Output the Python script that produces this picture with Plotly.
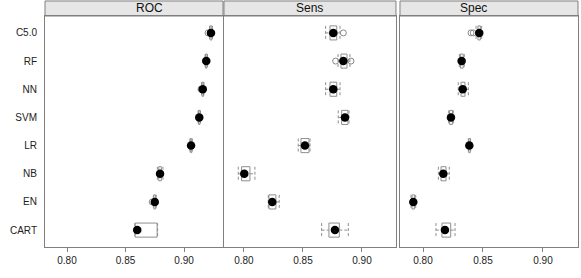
import plotly.graph_objects as go

models = ["C5.0", "RF", "NN", "SVM", "LR", "NB", "EN", "CART"]
metrics = ["ROC", "Sens", "Spec"]

# ROC
roc_med = [0.923, 0.919, 0.916, 0.913, 0.906, 0.8795, 0.875, 0.860]
roc_q1 = [0.9222, 0.9184, 0.9154, 0.9124, 0.9054, 0.8784, 0.8742, 0.8582]
roc_q3 = [0.9238, 0.9196, 0.9166, 0.9136, 0.9066, 0.8806, 0.8758, 0.8770]
roc_lo = [0.9218, 0.9180, 0.9150, 0.9120, 0.9050, 0.8772, 0.8738, 0.8580]
roc_hi = [0.9242, 0.9200, 0.9170, 0.9140, 0.9070, 0.8820, 0.8762, 0.8774]
roc_out = [[0.9205], [], [0.9145], [], [], [], [0.8728], []]

# Sens
sens_med = [0.8757, 0.8842, 0.8757, 0.8856, 0.8517, 0.8003, 0.8240, 0.8771]
sens_q1 = [0.8729, 0.8822, 0.8729, 0.8828, 0.8483, 0.7980, 0.8212, 0.8720]
sens_q3 = [0.8786, 0.8873, 0.8786, 0.8881, 0.8551, 0.8051, 0.8271, 0.8808]
sens_lo = [0.8692, 0.8797, 0.8692, 0.8799, 0.8460, 0.7952, 0.8206, 0.8658]
sens_hi = [0.8814, 0.8898, 0.8814, 0.8890, 0.8560, 0.8093, 0.8299, 0.8884]
sens_out = [[0.8842], [0.8777, 0.8907], [], [], [], [], [], []]

# Spec
spec_med = [0.8469, 0.8322, 0.8331, 0.8233, 0.8386, 0.8169, 0.7919, 0.8183]
spec_q1 = [0.8458, 0.8312, 0.8317, 0.8222, 0.8381, 0.8150, 0.7908, 0.8158]
spec_q3 = [0.8478, 0.8335, 0.8350, 0.8245, 0.8393, 0.8192, 0.7930, 0.8231]
spec_lo = [0.8442, 0.8303, 0.8294, 0.8214, 0.8378, 0.8128, 0.7900, 0.8108]
spec_hi = [0.8489, 0.8344, 0.8378, 0.8253, 0.8397, 0.8219, 0.7939, 0.8267]
spec_out = [[0.8400, 0.8419], [], [], [], [], [], [], []]

x_ticks = [0.80, 0.85, 0.90]
x_ticktext = ["0.80", "0.85", "0.90"]

panels = [
    dict(med=roc_med, q1=roc_q1, q3=roc_q3, lo=roc_lo, hi=roc_hi, out=roc_out),
    dict(med=sens_med, q1=sens_q1, q3=sens_q3, lo=sens_lo, hi=sens_hi, out=sens_out),
    dict(med=spec_med, q1=spec_q1, q3=spec_q3, lo=spec_lo, hi=spec_hi, out=spec_out),
]

domains = [[0.0, 0.334], [0.3358, 0.6585], [0.666, 1.0]]
ranges = [[0.7812, 0.9333], [0.7831, 0.9288], [0.7808, 0.9292]]

BOXC = "#8f8f8f"
H = 0.25

fig = go.Figure()
for k, p in enumerate(panels):
    xa = "x" if k == 0 else f"x{k+1}"
    ya = "y" if k == 0 else f"y{k+1}"
    bx, by, wx, wy, cx, cy, ox, oy = [], [], [], [], [], [], [], []
    for i in range(len(models)):
        q1, q3, lo, hi = p["q1"][i], p["q3"][i], p["lo"][i], p["hi"][i]
        bx += [q1, q3, q3, q1, q1, None]
        by += [i - H, i - H, i + H, i + H, i - H, None]
        wx += [lo, q1, None, q3, hi, None]
        wy += [i, i, None, i, i, None]
        cx += [lo, lo, None, hi, hi, None]
        cy += [i - H, i + H, None, i - H, i + H, None]
        for v in p["out"][i]:
            ox.append(v)
            oy.append(i)
    fig.add_trace(go.Scatter(x=bx, y=by, mode="lines", xaxis=xa, yaxis=ya,
                             line=dict(color=BOXC, width=1), hoverinfo="skip", showlegend=False))
    fig.add_trace(go.Scatter(x=wx, y=wy, mode="lines", xaxis=xa, yaxis=ya,
                             line=dict(color=BOXC, width=1, dash="3px,2px"), hoverinfo="skip", showlegend=False))
    fig.add_trace(go.Scatter(x=cx, y=cy, mode="lines", xaxis=xa, yaxis=ya,
                             line=dict(color=BOXC, width=1, dash="3px,2px"), hoverinfo="skip", showlegend=False))
    fig.add_trace(go.Scatter(x=ox, y=oy, mode="markers", xaxis=xa, yaxis=ya,
                             marker=dict(symbol="circle-open", size=6, color="#8a8a8a", line=dict(width=1)),
                             showlegend=False))
    fig.add_trace(go.Scatter(x=p["med"], y=list(range(len(models))), mode="markers", xaxis=xa, yaxis=ya,
                             marker=dict(symbol="circle", size=8.5, color="black"), showlegend=False,
                             text=models, hovertemplate="%{text}: %{x:.3f}<extra></extra>"))

axis_common = dict(showline=True, mirror=True, linecolor="#7f7f7f", linewidth=1,
                   showgrid=False, zeroline=False)
layout = dict(
    width=581, height=278,
    margin=dict(l=45, r=3, t=16, b=31),
    paper_bgcolor="white", plot_bgcolor="white",
    font=dict(family="Liberation Sans, Arial, sans-serif", size=10, color="#222"),
)
for k in range(3):
    xn = "xaxis" if k == 0 else f"xaxis{k+1}"
    yn = "yaxis" if k == 0 else f"yaxis{k+1}"
    layout[xn] = dict(domain=domains[k], range=ranges[k], tickvals=x_ticks, ticktext=x_ticktext,
                      ticks="outside", ticklen=4, tickcolor="#7f7f7f", tickfont=dict(size=10),
                      anchor="y" if k == 0 else f"y{k+1}", **axis_common)
    ydict = dict(range=[7.6, -0.6], tickvals=list(range(len(models))), ticktext=models,
                 ticks="", showticklabels=(k == 0), tickfont=dict(size=10), ticklabelstandoff=5,
                 anchor="x" if k == 0 else f"x{k+1}", **axis_common)
    layout[yn] = ydict
fig.update_layout(**layout)

shapes = []
annotations = []
for k, m in enumerate(metrics):
    d0, d1 = domains[k]
    shapes.append(dict(type="rect", xref="paper", yref="paper", x0=d0, x1=d1, y0=1.0, y1=1.065,
                       fillcolor="#e6e6e6", line=dict(color="#7f7f7f", width=1), layer="below"))
    annotations.append(dict(text=m, xref="paper", yref="paper", x=(d0 + d1) / 2, y=1.0325,
                            showarrow=False, font=dict(size=12, color="#111"), yanchor="middle"))
fig.update_layout(shapes=shapes, annotations=annotations)

fig.write_html("out.html", config={"displayModeBar": False},
               post_script="document.body.style.margin='0px';")
